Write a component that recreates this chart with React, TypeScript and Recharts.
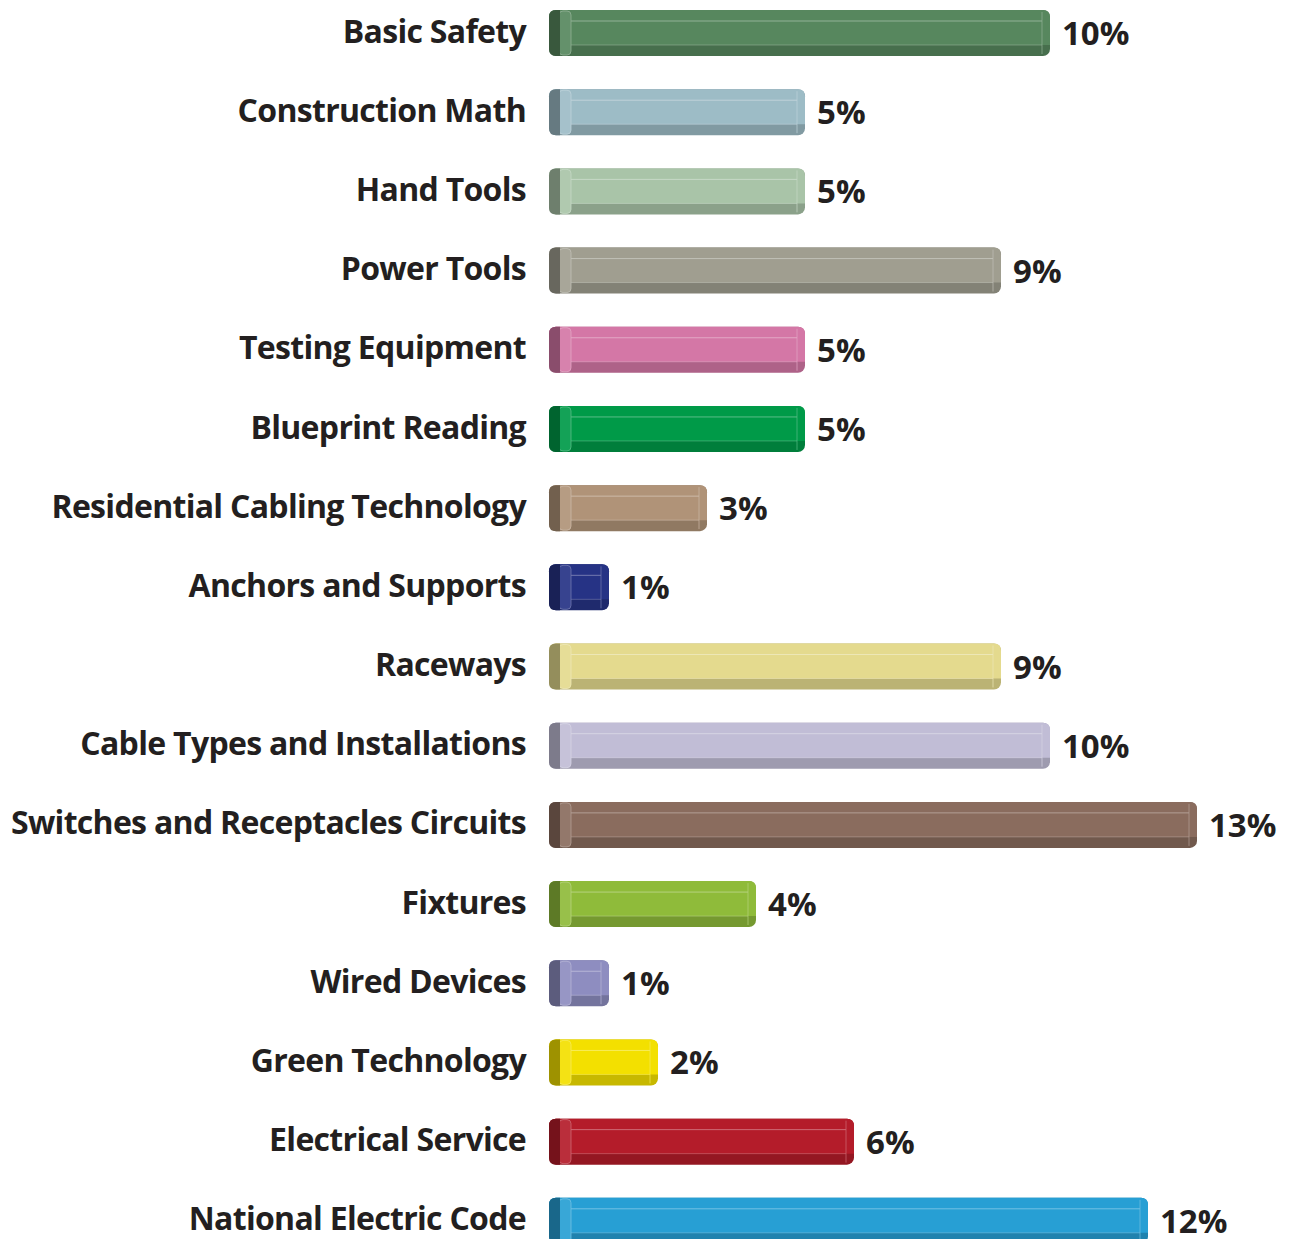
import { BarChart, Bar, XAxis, YAxis, Cell, LabelList } from "recharts";

const categories = [
  "Basic Safety",
  "Construction Math",
  "Hand Tools",
  "Power Tools",
  "Testing Equipment",
  "Blueprint Reading",
  "Residential Cabling Technology",
  "Anchors and Supports",
  "Raceways",
  "Cable Types and Installations",
  "Switches and Receptacles Circuits",
  "Fixtures",
  "Wired Devices",
  "Green Technology",
  "Electrical Service",
  "National Electric Code",
];
const shares = [10, 5, 5, 9, 5, 5, 3, 1, 9, 10, 13, 4, 1, 2, 6, 12];
const colors = [
  "#57875e", "#9dbcc6", "#a9c4a8", "#a09e90", "#d477a6", "#009a48",
  "#b09378", "#263385", "#e4da8e", "#c1bdd6", "#8a6c5e", "#8fbb3a",
  "#8e8dc0", "#f3e000", "#b41c2a", "#279fd4",
];

const data = categories.map((name, i) => ({ name, value: shares[i] }));

const FONT = "'Open Sans', sans-serif";
const INK = "#231f20";
const CAP = 11;

function mix(hex: string, target: number, amt: number) {
  const n = parseInt(hex.slice(1), 16);
  const ch = [(n >> 16) & 255, (n >> 8) & 255, n & 255].map((c) =>
    Math.round(c + (target - c) * amt)
  );
  return `rgb(${ch[0]},${ch[1]},${ch[2]})`;
}

function BevelBar(props: any) {
  const { x, y, width, height, fill } = props;
  if (width == null || height == null) return null;
  const left = x - CAP;
  const w = width + CAP;
  const r = 7;
  const dark = mix(fill, 0, 0.18);
  const darker = mix(fill, 0, 0.35);
  const light = mix(fill, 255, 0.35);
  const tint = mix(fill, 255, 0.08);
  const topBand = 11;
  const botBand = 11;
  return (
    <g>
      <rect x={left} y={y} width={w} height={height} rx={r} ry={r} fill={dark} />
      <path
        d={`M${left + r},${y} H${left + w - r} Q${left + w},${y} ${left + w},${y + r} V${y + height - botBand} H${left} V${y + r} Q${left},${y} ${left + r},${y} Z`}
        fill={fill}
      />
      <line x1={left + 20} x2={left + w - 8} y1={y + topBand} y2={y + topBand} stroke={light} strokeWidth={1} />
      <line x1={left + 20} x2={left + w - 8} y1={y + height - botBand} y2={y + height - botBand} stroke={light} strokeWidth={1} opacity={0.6} />
      <line x1={left + w - 8} x2={left + w - 8} y1={y + 2} y2={y + height - 2} stroke={light} strokeWidth={1} opacity={0.7} />
      <rect x={left + 10} y={y + 1} width={12} height={height - 2} rx={4} fill={tint} stroke={light} strokeWidth={0.8} />
      <path
        d={`M${left + r},${y} H${left + 11} V${y + height} H${left + r} Q${left},${y + height} ${left},${y + height - r} V${y + r} Q${left},${y} ${left + r},${y} Z`}
        fill={darker}
      />
    </g>
  );
}

function CategoryTick(props: any) {
  const { x, y, payload } = props;
  return (
    <text
      x={x - 26}
      y={y + 10}
      textAnchor="end"
      fontFamily={FONT}
      fontWeight={700}
      fontSize={32}
      letterSpacing={-0.7}
      fill={INK}
    >
      {payload.value}
    </text>
  );
}

function ValueLabel(props: any) {
  const { x, y, width, height, value } = props;
  return (
    <text x={x + width + 12} y={y + height / 2 + 12} fontFamily={FONT} fontWeight={700} fontSize={33} fill={INK}>
      {value}%
    </text>
  );
}

export default function App() {
  return (
    <div style={{ position: "absolute", left: 0, top: -7 }}>
      <BarChart
        width={1298}
        height={1267}
        data={data}
        layout="vertical"
        margin={{ top: 0, right: 101, bottom: 0, left: 0 }}
        barSize={46}
      >
        <XAxis type="number" domain={[0, 13]} hide />
        <YAxis
          type="category"
          dataKey="name"
          width={560}
          axisLine={false}
          tickLine={false}
          tick={<CategoryTick />}
          interval={0}
        />
        <Bar dataKey="value" shape={<BevelBar />} isAnimationActive={false}>
          {data.map((d, i) => (
            <Cell key={d.name} fill={colors[i]} />
          ))}
          <LabelList dataKey="value" content={<ValueLabel />} />
        </Bar>
      </BarChart>
    </div>
  );
}
